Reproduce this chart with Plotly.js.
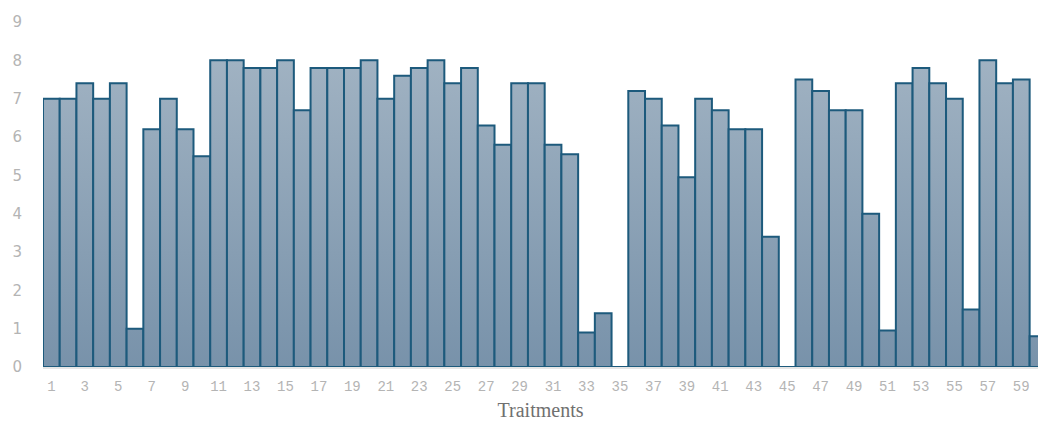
<!DOCTYPE html>
<html>
<head>
<meta charset="utf-8">
<script src="https://cdn.plot.ly/plotly-3.0.1.min.js"></script>
<style>
html,body{margin:0;padding:0;background:#fff;}
#chart{width:1038px;height:421px;}
</style>
</head>
<body>
<div id="chart"></div>
<script>
const treatments = Array.from({length: 60}, (_, i) => i + 1);
const scores = [
  7.0, 7.0, 7.4, 7.0, 7.4, 1.0, 6.2, 7.0, 6.2, 5.5,
  8.0, 8.0, 7.8, 7.8, 8.0, 6.7, 7.8, 7.8, 7.8, 8.0,
  7.0, 7.6, 7.8, 8.0, 7.4, 7.8, 6.3, 5.8, 7.4, 7.4,
  5.8, 5.55, 0.9, 1.4, 0, 7.2, 7.0, 6.3, 4.95, 7.0,
  6.7, 6.2, 6.2, 3.4, 0, 7.5, 7.2, 6.7, 6.7, 4.0,
  0.95, 7.4, 7.8, 7.4, 7.0, 1.5, 8.0, 7.4, 7.5, 0.8
];
const xTickVals = treatments.filter(v => v % 2 === 1);
const yTickVals = [0,1,2,3,4,5,6,7,8,9];

const trace = {
  type: 'bar',
  x: treatments,
  y: scores,
  marker: {color: '#8aa0b4', line: {color: '#1d5a7c', width: 2}},
  hoverinfo: 'x+y'
};

const layout = {
  width: 1038, height: 421,
  margin: {l: 43, r: 0, t: 22, b: 54, pad: 0},
  paper_bgcolor: '#ffffff', plot_bgcolor: '#ffffff',
  bargap: 0,
  showlegend: false,
  xaxis: {
    range: [0.5, 60.0],
    tickmode: 'array', tickvals: xTickVals, ticktext: xTickVals.map(String),
    tickfont: {family: 'Liberation Mono, Courier New, monospace', size: 14, color: '#b4b4b4'},
    ticks: '', ticklabelstandoff: 5,
    showgrid: false, zeroline: false,
    showline: true, linecolor: '#e6e6e6', linewidth: 2,
    title: {text: 'Traitments', font: {family: 'Liberation Serif, serif', size: 20, color: '#707070'}, standoff: 9}
  },
  yaxis: {
    range: [0, 9],
    tickmode: 'array', tickvals: yTickVals, ticktext: yTickVals.map(String),
    tickfont: {family: 'DejaVu Sans, sans-serif', size: 15, color: '#b4b4b4'},
    ticks: '', ticklabelstandoff: 20,
    showgrid: false, zeroline: false, showline: false
  }
};

Plotly.newPlot('chart', [trace], layout, {displayModeBar: false, staticPlot: true}).then(gd => {
  const svg = gd.querySelector('svg.main-svg');
  const ns = 'http://www.w3.org/2000/svg';
  let defs = svg.querySelector('defs');
  if (!defs) { defs = document.createElementNS(ns, 'defs'); svg.insertBefore(defs, svg.firstChild); }
  const grad = document.createElementNS(ns, 'linearGradient');
  grad.setAttribute('id', 'barGrad');
  grad.setAttribute('gradientUnits', 'userSpaceOnUse');
  const ys = gd._fullLayout.yaxis;
  grad.setAttribute('x1', '0'); grad.setAttribute('x2', '0');
  grad.setAttribute('y1', String(ys.l2p(8)));
  grad.setAttribute('y2', String(ys.l2p(0)));
  [['0%', '#a0b2c2'], ['100%', '#7892aa']].forEach(([o, c]) => {
    const s = document.createElementNS(ns, 'stop');
    s.setAttribute('offset', o); s.setAttribute('stop-color', c);
    grad.appendChild(s);
  });
  defs.appendChild(grad);
  gd.querySelectorAll('.barlayer .point path').forEach(p => { p.style.fill = 'url(#barGrad)'; });
});
</script>
</body>
</html>
